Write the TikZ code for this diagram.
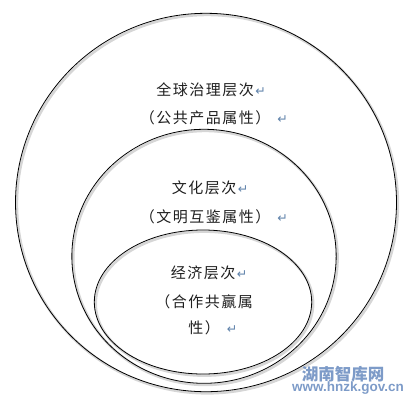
\documentclass[tikz,border=0pt]{standalone}
\usepackage{fontspec}
\usepackage{xcolor}
\usepackage{tikz}
\usetikzlibrary{shapes.geometric}
\setmainfont{Liberation Sans}
\newfontfamily\cjk[LetterSpace=10]{Noto Sans CJK SC}
\newfontfamily\wmcjk{Noto Sans CJK SC}
\newfontfamily\markfont{DejaVu Sans}
\definecolor{markblue}{RGB}{95,130,170}
\definecolor{wmblue}{RGB}{125,155,200}
\newcommand\pmk[1][1.5pt]{\rlap{\hspace{#1}{\markfont\fontsize{12.5}{12}\selectfont\color{markblue}↵}}}
\tikzset{
  layer/.style={draw,ellipse,line width=0.8pt,inner sep=0pt,
    preaction={draw=black!16,line width=2.6pt,transform canvas={shift={(1.4pt,-1.6pt)}}}},
  txt/.style={font=\cjk\fontsize{15}{16}\selectfont,text=black!88,inner sep=0pt},
  wm/.style={text=wmblue,inner sep=0pt}
}

\begin{document}
\begin{tikzpicture}[x=1pt,y=-1pt]
\useasboundingbox (0,0) rectangle (411,402);
\node [layer,minimum width=381pt,minimum height=378.4pt] (glob) at(206,202.5){};
\node [layer,minimum width=264.3pt,minimum height=254pt] (cult) at(204,256.3){};
\node [layer,minimum width=217.4pt,minimum height=144pt] (econ) at(203,302){};
\node [txt] (globa) at(205,90){全球治理层次\pmk};
\node [txt] (globb) at(205,118){（公共产品属性）\pmk[7pt]};
\node [txt] (culta) at(204,188){文化层次\pmk};
\node [txt] (cultb) at(205,217){（文明互鉴属性）\pmk[7pt]};
\node [txt] (econa) at(203,273){经济层次\pmk};
\node [txt] (econb) at(204,302){（合作共赢属};
\node [txt] (econc) at(204,328){性）\pmk[7pt]};
%watermark
\node [wm,font=\wmcjk\bfseries\fontsize{16.5}{17}\selectfont] (wmcn) at(343,374){湖南智库网};
\node [wm,font=\bfseries\fontsize{13.5}{14}\selectfont] (wmurl) at(348,388){www.hnzk.gov.cn};
\end{tikzpicture}
\end{document}
